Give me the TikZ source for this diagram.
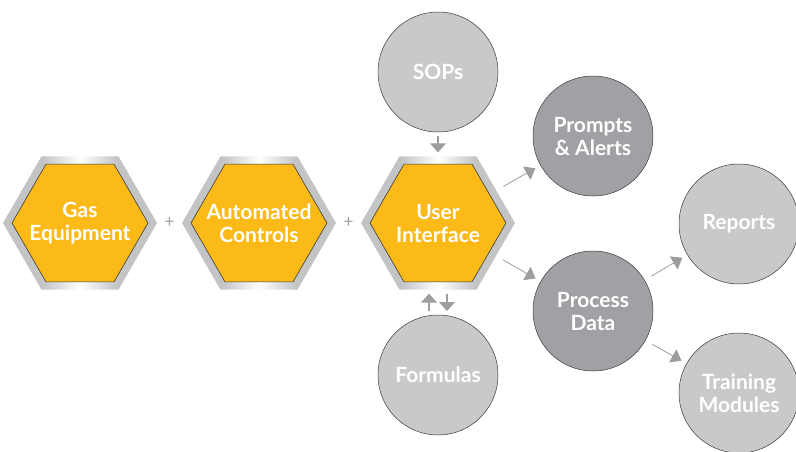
\documentclass[tikz,border=0pt]{standalone}
\usepackage{fontspec}
\setmainfont{Lato}
\usepackage{tikz}
\usetikzlibrary{arrows.meta}
\usetikzlibrary{shapes.geometric}
\usetikzlibrary{positioning}
\usetikzlibrary{calc}

\definecolor{hexyellow}{HTML}{FBBA17}
\definecolor{rimgray}{HTML}{C3C4C6}
\definecolor{lightcirc}{HTML}{C8C9CB}
\definecolor{darkcirc}{HTML}{A0A1A4}
\definecolor{arrowgray}{HTML}{9C9D9F}
\definecolor{edgedark}{HTML}{3A3A3A}

\pgfdeclarehorizontalshading{rimshade}{100bp}{color(0bp)=(rimgray); color(38bp)=(rimgray); color(50bp)=(white); color(62bp)=(rimgray); color(100bp)=(rimgray)}

\newcommand{\boxfont}{\fontsize{21}{23}\selectfont\bfseries}

\tikzset{
  hexrim/.style={regular polygon, regular polygon sides=6, minimum size=154pt,
    inner sep=0pt, outer sep=0pt, shading=rimshade},
  hexcore/.style={regular polygon, regular polygon sides=6, minimum size=136pt,
    inner sep=0pt, fill=hexyellow, draw=edgedark, line width=0.6pt},
  hextext/.style={text=white, font=\boxfont, align=center, inner sep=0pt},
  bubble/.style={circle, minimum size=120pt, inner sep=0pt, outer sep=0pt,
    draw=edgedark, line width=0.5pt, text=white, font=\boxfont, align=center},
  lightbubble/.style={bubble, fill=lightcirc},
  darkbubble/.style={bubble, fill=darkcirc},
  plusmark/.style={text=arrowgray, font=\fontsize{17}{17}\selectfont},
  flow/.style={draw=arrowgray, line width=0.8pt, shorten <=8pt, shorten >=6pt,
    -{Triangle[length=10pt,width=15pt]}},
  vflow/.style={draw=arrowgray, line width=1.2pt, shorten <=4pt, shorten >=4pt,
    -{Triangle[length=9pt,width=16pt]}}
}

\begin{document}
\begin{tikzpicture}[x=1pt,y=-1pt,node distance=179pt]
\useasboundingbox (0,0) rectangle (796,451);
\clip (0,0) rectangle (796,451);

% the three hexagons
\node[hexrim]             (gas)  at (80,223) {};
\node[hexrim, right of=gas]  (auto) {};
\node[hexrim, right of=auto] (ui)   {};
\node[hexcore] (gasin)  at (gas)  {};
\node[hexcore] (autoin) at (auto) {};
\node[hexcore] (uiin)   at (ui)   {};
\node[hextext] (gastext)  at (gas)  {Gas\\Equipment};
\node[hextext] (autotext) at (auto) {Automated\\Controls};
\node[hextext] (uitext)   at (ui)   {User\\Interface};

\node[plusmark] at ($(gas)!0.5!(auto)$) {+};
\node[plusmark] at ($(auto)!0.5!(ui)$)  {+};

% bubbles
\node[lightbubble, above of=ui, node distance=151pt] (sops)     {SOPs};
\node[lightbubble, below of=ui, node distance=152pt] (formulas) {Formulas};
\node[darkbubble]  (prompts)  at (593,136) {Prompts\\\& Alerts};
\node[darkbubble]  (process)  at (593,311) {Process\\Data};
\node[lightbubble] (reports)  at (739,224) {Reports};
\node[lightbubble] (training) at (739,393) {Training\\Modules};

% connectors
\draw[vflow] (sops) -- (ui);
\draw[vflow] ([xshift=-9pt]formulas.north) -- ([xshift=-9pt]ui.south);
\draw[vflow] ([xshift=9pt]ui.south) -- ([xshift=9pt]formulas.north);
\draw[flow] (ui) -- (prompts);
\draw[flow] (ui) -- (process);
\draw[flow] (process) -- (reports);
\draw[flow] (process) -- (training);
\end{tikzpicture}
\end{document}
